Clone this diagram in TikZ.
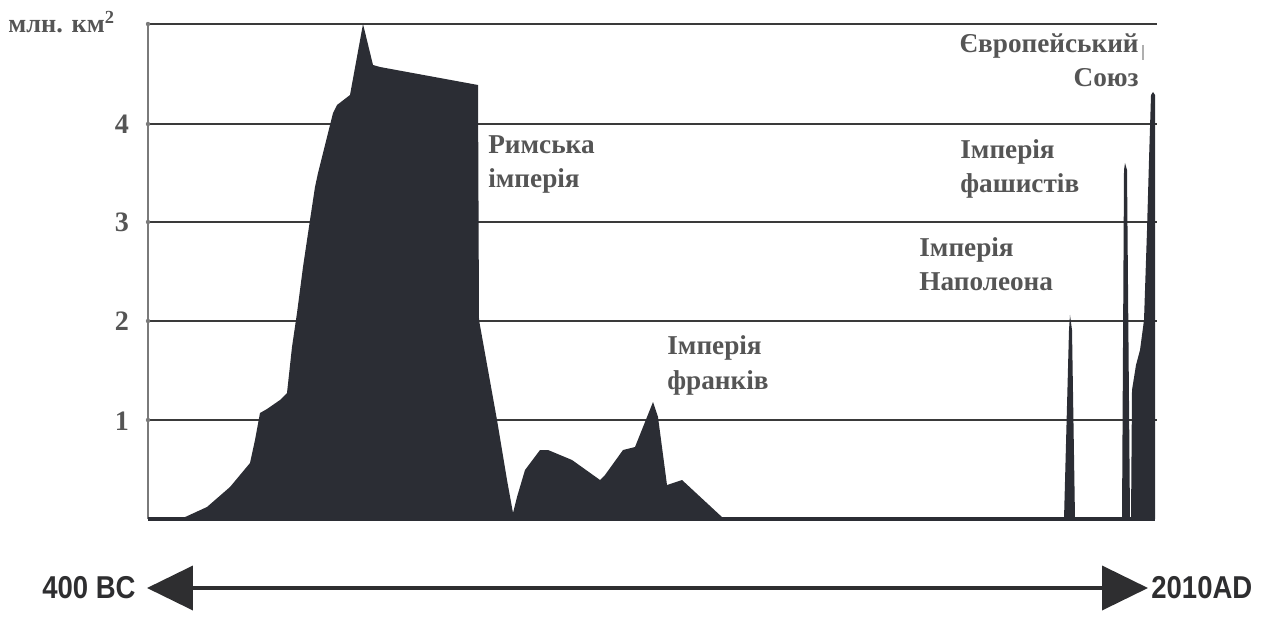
\documentclass[tikz,border=0pt]{standalone}
\usepackage{fontspec}
\setmainfont{Liberation Serif}
\newfontfamily\arialfont{Liberation Sans}
\usetikzlibrary{arrows.meta}
\definecolor{fillc}{HTML}{2B2D34}
\definecolor{gridc}{HTML}{3A3A3A}
\definecolor{axisc}{HTML}{7A7A7A}
\definecolor{labc}{HTML}{555555}
\definecolor{timec}{HTML}{2E2E30}
\tikzset{
  gridline/.style={draw=gridc, line width=1.3pt},
  axisline/.style={draw=axisc, line width=1.3pt},
  area/.style={fill=fillc, draw=none},
  lab/.style={font=\fontsize{15.5}{19.4}\selectfont\bfseries, text=labc, inner sep=0pt, align=left},
  tick/.style={font=\fontsize{16}{16}\selectfont\bfseries, text=labc, inner sep=0pt},
  timelab/.style={font=\arialfont\fontsize{18}{18}\selectfont\bfseries, text=timec, inner sep=0pt},
  timearrow/.style={draw=timec, line width=2.2pt,
     {Triangle[length=0.92cm,width=0.88cm]}-{Triangle[length=0.92cm,width=0.88cm]}}
}
\begin{document}
\begin{tikzpicture}[x=0.02cm,y=-0.02cm]
\useasboundingbox (0,0) rectangle (1267,621);
% grid
\foreach \yy in {24,124,222,321,420} {
  \draw[gridline] (148,\yy) -- (1157,\yy);
}
\draw[axisline] (148,24) -- (148,519);
\foreach \yy in {24,124,222,321,420} {
  \fill[axisc] (148,\yy) circle (2.2);
}
% Roman + Franks
\fill[area] (148,519) -- (183,518) -- (207,507) -- (230,487) -- (250,463) -- (255,440) -- (260,413)
  -- (267,409) -- (280,400) -- (287,393) -- (292,347) -- (297,313) -- (303,267) -- (310,220)
  -- (315,187) -- (318,173) -- (333,113) -- (337,105) -- (350,95) -- (363,24) -- (373,65)
  -- (380,67) -- (478,85) -- (479,320) -- (488,370) -- (497,420) -- (507,480) -- (513,513)
  -- (517,497) -- (525,470) -- (540,450) -- (548,450) -- (572,460) -- (600,480) -- (605,475)
  -- (623,450) -- (635,447) -- (653,402) -- (658,417) -- (667,485) -- (682,480) -- (723,518)
  -- (723,519) -- cycle;
% Napoleon
\fill[area] (1064,519) -- (1069,330) -- (1070,315) -- (1072,330) -- (1075,519) -- cycle;
% Fascists
\fill[area] (1122,519) -- (1124,170) -- (1125,163) -- (1127,170) -- (1130,519) -- cycle;
% EU
\fill[area] (1131,519) -- (1132,390) -- (1136,365) -- (1140,350) -- (1144,320) -- (1147,230)
  -- (1149,160) -- (1151,95) -- (1153,92) -- (1155,95) -- (1155,519) -- cycle;
% baseline
\draw[draw=fillc, line width=1.8pt] (148,519) -- (1155,519);
% small artifact mark
\draw[draw=axisc!60, line width=0.6pt] (1143,45) -- (1143,60);
% axis labels
\node[lab, font=\fontsize{15}{15}\selectfont\bfseries, anchor=base west] (unit) at (8,33) {млн. км\textsuperscript{2}};
\node[tick] (t4) at (122,124) {4};
\node[tick] (t3) at (122,222) {3};
\node[tick] (t2) at (122,321) {2};
\node[tick] (t1) at (122,421) {1};
% empire labels (anchor at baseline of the last line)
\node[lab, anchor=base west] (rome) at (488,188) {Римська\\імперія};
\node[lab, anchor=base west] (franks) at (667,389) {Імперія\\франків};
\node[lab, anchor=base west] (napoleon) at (919,291) {Імперія\\Наполеона};
\node[lab, anchor=base west] (fascist) at (960,193) {Імперія\\фашистів};
\node[lab, anchor=base east, align=right] (eu) at (1139,87) {Європейський\\Союз};
% time axis
\coordinate (L) at (147,588);
\coordinate (R) at (1148,588);
\draw[timearrow] (L) -- (R);
\node[timelab, anchor=east] (bc) at (136,588) {\scalebox{0.87}[1]{400 BC}};
\node[timelab, anchor=west] (ad) at (1151,588) {\scalebox{0.87}[1]{2010AD}};
\end{tikzpicture}
\end{document}
